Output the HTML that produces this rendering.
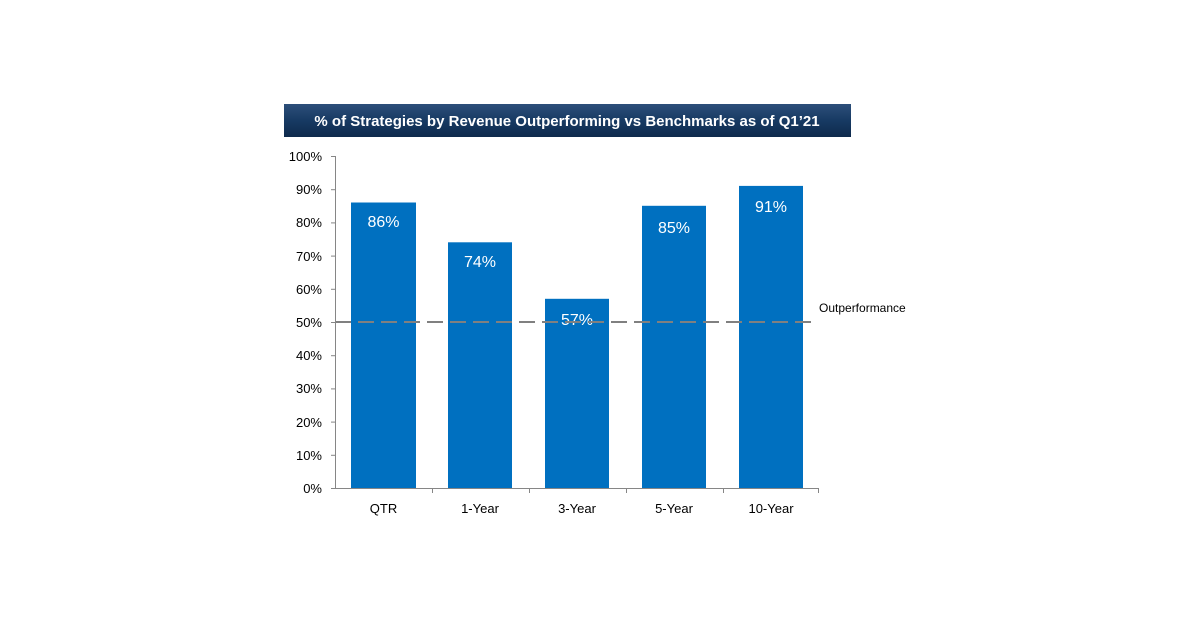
<!DOCTYPE html>
<html><head><meta charset="utf-8"><style>
body{margin:0;background:#fff;width:1200px;height:627px;overflow:hidden;font-family:"Liberation Sans",sans-serif}
</style></head><body>
<svg width="1200" height="627" xmlns="http://www.w3.org/2000/svg" font-family="Liberation Sans, sans-serif">
<defs><linearGradient id="g" x1="0" y1="0" x2="0" y2="1">
<stop offset="0" stop-color="#2d4f7a"/><stop offset="0.5" stop-color="#173a63"/><stop offset="1" stop-color="#0e2a4c"/></linearGradient></defs>
<rect x="284" y="104" width="567" height="33" fill="url(#g)"/>
<text x="567" y="126" text-anchor="middle" fill="#fff" font-size="15" font-weight="bold">% of Strategies by Revenue Outperforming vs Benchmarks as of Q1’21</text>
<g fill="#0070c0">
<rect x="351" y="202.5" width="65" height="285.5"/>
<rect x="448" y="242.3" width="64" height="245.7"/>
<rect x="545" y="298.8" width="64" height="189.2"/>
<rect x="642" y="205.8" width="64" height="282.2"/>
<rect x="739" y="185.9" width="64" height="302.1"/>
</g>
<g fill="#fff" font-size="16" text-anchor="middle">
<text x="383.5" y="227">86%</text><text x="480" y="267">74%</text><text x="577" y="325">57%</text><text x="674" y="233">85%</text><text x="771" y="212">91%</text>
</g>
<line x1="335" y1="322" x2="818" y2="322" stroke="#808080" stroke-width="2" stroke-dasharray="16,7"/>
<text x="819" y="312" font-size="12" fill="#000">Outperformance</text>
<g stroke="#868686" stroke-width="1">
<line x1="335.5" y1="156" x2="335.5" y2="488"/>
<line x1="335" y1="488.5" x2="818" y2="488.5"/>
<line x1="331" y1="156.5" x2="335" y2="156.5"/><line x1="331" y1="189.7" x2="335" y2="189.7"/><line x1="331" y1="222.9" x2="335" y2="222.9"/><line x1="331" y1="256.1" x2="335" y2="256.1"/><line x1="331" y1="289.3" x2="335" y2="289.3"/><line x1="331" y1="322.5" x2="335" y2="322.5"/><line x1="331" y1="355.7" x2="335" y2="355.7"/><line x1="331" y1="388.9" x2="335" y2="388.9"/><line x1="331" y1="422.1" x2="335" y2="422.1"/><line x1="331" y1="455.3" x2="335" y2="455.3"/><line x1="331" y1="488.5" x2="335" y2="488.5"/>
<line x1="432.5" y1="488" x2="432.5" y2="493"/><line x1="529.5" y1="488" x2="529.5" y2="493"/><line x1="626.5" y1="488" x2="626.5" y2="493"/><line x1="723.5" y1="488" x2="723.5" y2="493"/><line x1="818.5" y1="488" x2="818.5" y2="493"/>
</g>
<g font-size="13" fill="#000" text-anchor="end">
<text x="322" y="161">100%</text><text x="322" y="194">90%</text><text x="322" y="227">80%</text><text x="322" y="261">70%</text><text x="322" y="294">60%</text><text x="322" y="327">50%</text><text x="322" y="360">40%</text><text x="322" y="393">30%</text><text x="322" y="427">20%</text><text x="322" y="460">10%</text><text x="322" y="493">0%</text>
</g>
<g font-size="13" fill="#000" text-anchor="middle">
<text x="383.5" y="513">QTR</text><text x="480" y="513">1-Year</text><text x="577" y="513">3-Year</text><text x="674" y="513">5-Year</text><text x="771" y="513">10-Year</text>
</g>
</svg>
</body></html>
